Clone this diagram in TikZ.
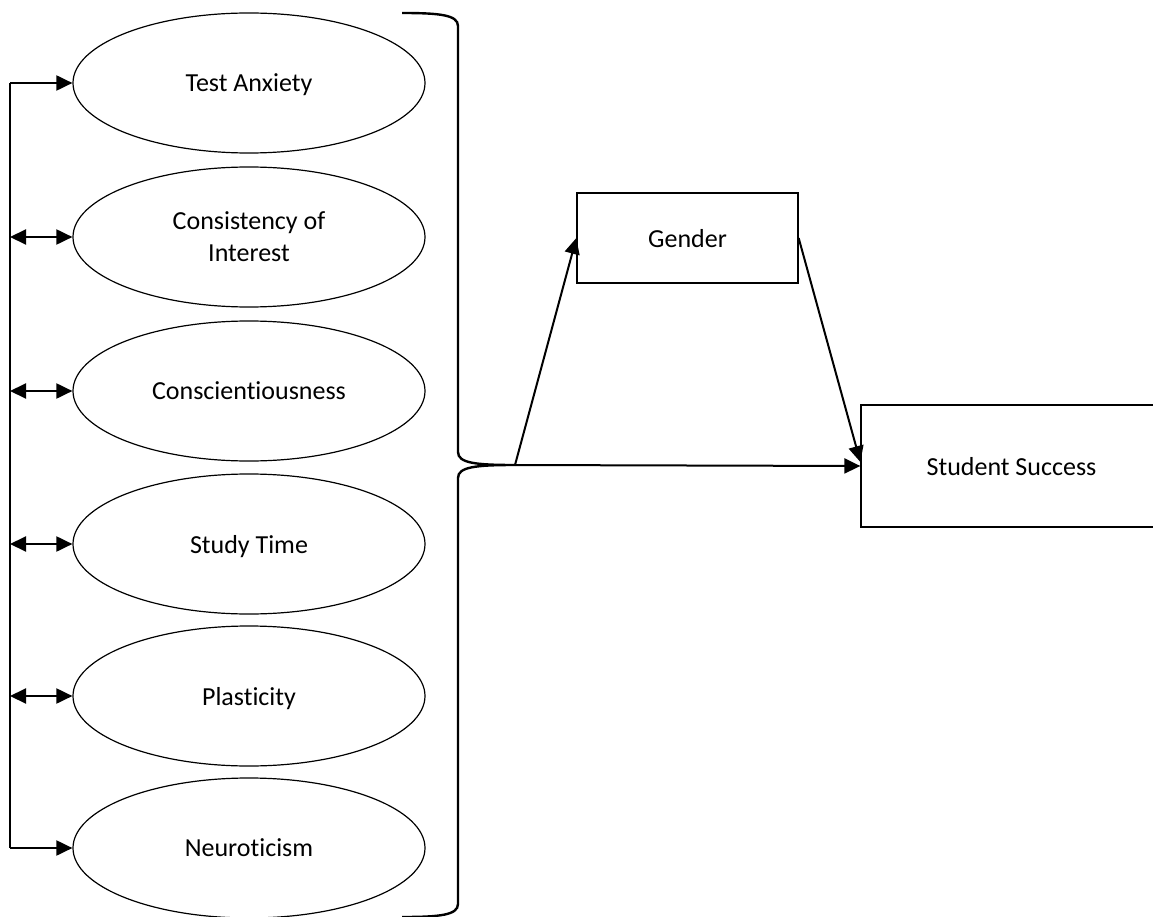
\documentclass[tikz,border=0pt]{standalone}
\usepackage{fontspec}
\setmainfont{Carlito}[Ligatures=NoCommon]
\usetikzlibrary{shapes.geometric,arrows.meta}
\begin{document}
\begin{tikzpicture}[x=1pt,y=-1pt,
  font=\fontsize{26}{32}\selectfont,
  factor/.style={ellipse,draw,line width=1.2pt,inner sep=0pt,
    minimum width=352pt,minimum height=140pt,align=center,
    text depth=0pt},
  outcome/.style={rectangle,draw,line width=1.3pt,inner sep=0pt,text depth=0pt},
  link/.style={line width=2pt},
  tip/.tip={Triangle[length=16pt,width=15pt]}]
\useasboundingbox (0,0) rectangle (1153,917);

% predictor ellipses
\node[factor] (ta) at (249,83)  {Test Anxiety};
\node[factor] (ci) at (249,237) {Consistency of\\Interest};
\node[factor] (co) at (249,391) {Conscientiousness};
\node[factor] (st) at (249,544) {Study Time};
\node[factor] (pl) at (249,696) {Plasticity};
\node[factor] (ne) at (249,848) {Neuroticism};

% outcome boxes
\node[outcome,minimum width=221pt,minimum height=90pt] (ge) at (687.5,238) {Gender};
\node[outcome,minimum width=301pt,minimum height=122pt] (ss) at (1011.5,466) {Student Success};

% correlation bar on the left
\coordinate (c1) at (10,83);
\coordinate (c2) at (10,237);
\coordinate (c3) at (10,391);
\coordinate (c4) at (10,544);
\coordinate (c5) at (10,696);
\coordinate (c6) at (10,848);
\draw[link] (c1) -- (c6);
\draw[link,-tip] (c1) -- (ta.west);
\draw[link,tip-tip] (c2) -- (ci.west);
\draw[link,tip-tip] (c3) -- (co.west);
\draw[link,tip-tip] (c4) -- (st.west);
\draw[link,tip-tip] (c5) -- (pl.west);
\draw[link,-tip] (c6) -- (ne.west);

% grouping brace
\coordinate (bt) at (515,465);
\draw[line width=2.4pt]
  (402,13) .. controls (440,13) and (458,15) .. (458,26)
  -- (458,452) .. controls (458,463) and (475,465) .. (bt)
  .. controls (475,465) and (458,467) .. (458,478)
  -- (458,904) .. controls (458,915) and (440,917) .. (402,917);

% paths to the outcomes
\draw[link,-tip] (bt) -- (ge.west);
\draw[link,-tip] (bt) -- (ss.west);
\draw[link,-tip] (ge.east) -- ([yshift=4pt]ss.west);
\end{tikzpicture}
\end{document}
